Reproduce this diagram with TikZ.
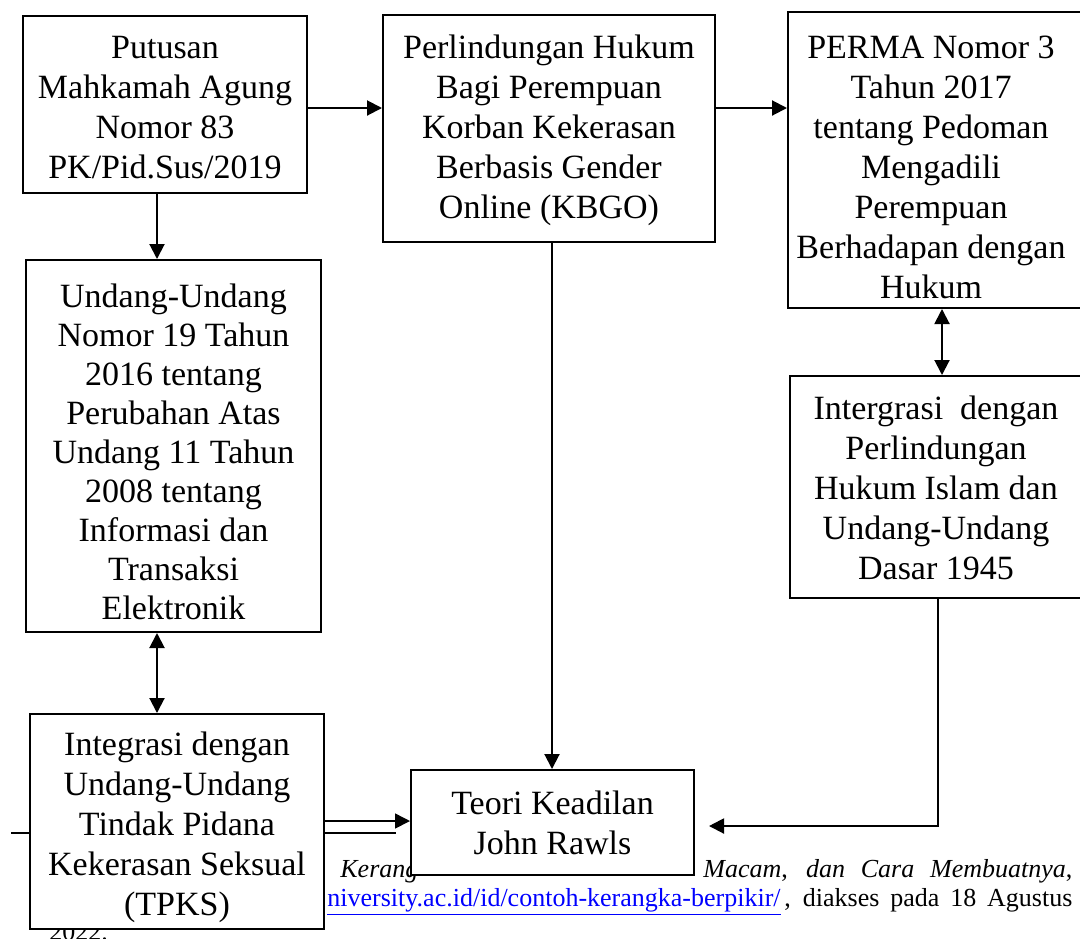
\documentclass[tikz,border=0pt]{standalone}
\usepackage{fontspec}
\setmainfont{Liberation Serif}
\usetikzlibrary{arrows.meta}
\definecolor{linkblue}{RGB}{0,0,255}
\newcommand{\btext}[3]{\hspace*{#2}\raisebox{#1}[\height][\depth]{\begin{tabular}{@{}c@{}}#3\end{tabular}}}
\begin{document}
\begin{tikzpicture}[x=0.5pt,y=-0.5pt,
  box/.style={draw, line width=1pt, fill=white, inner sep=0pt,
    font=\fontsize{17pt}{20pt}\selectfont},
  fn/.style={inner sep=0pt, font=\fontsize{13pt}{15pt}\selectfont},
  arr/.style={line width=1pt, -{Triangle[length=7.5pt,width=7.5pt]}},
  darr/.style={line width=1pt, {Triangle[length=7.5pt,width=7.5pt]}-{Triangle[length=7.5pt,width=7.5pt]}}]
\useasboundingbox (0,0) rectangle (1080,938);
\clip (0,0) rectangle (1080,938);

% footnote (partly hidden behind the boxes)
\node[fn, anchor=base west] (fa) at (340,877) {\textit{Kerang}};
\node[fn, anchor=base west] (fb) at (703,877) {\makebox[184.5pt][s]{\textit{Macam}, \textit{dan} \textit{Cara} \textit{Membuatnya},}};
\node[fn, anchor=base west] (fc) at (327,906) {\color{linkblue}\underline{niversity.ac.id/id/contoh-kerangka-berpikir/}};
\node[fn, anchor=base west] (fd) at (784,906) {\makebox[144pt][s]{, diakses pada 18 Agustus}};
\node[fn, anchor=base west] (fe) at (49,940) {2022.};
\draw[line width=1pt] (11,833) -- (396,833);

% boxes
\node[box, minimum width=142pt, minimum height=88.5pt] (a) at (165,104.5)
  {\btext{-3pt}{0pt}{Putusan\\Mahkamah Agung\\Nomor 83\\PK/Pid.Sus/2019}};
\node[box, minimum width=166pt, minimum height=113.5pt] (b) at (549,128.5)
  {\btext{-1pt}{0pt}{Perlindungan Hukum\\Bagi Perempuan\\Korban Kekerasan\\Berbasis Gender\\Online (KBGO)}};
\node[box, minimum width=151pt, minimum height=148pt] (c) at (939,160)
  {\btext{-5pt}{-8pt}{PERMA Nomor 3\\Tahun 2017\\tentang Pedoman\\Mengadili\\Perempuan\\Berhadapan dengan\\Hukum}};
\node[box, minimum width=147.5pt, minimum height=186pt, font=\fontsize{17pt}{19.5pt}\selectfont] (d) at (173.5,446)
  {\btext{-5pt}{0pt}{Undang-Undang\\Nomor 19 Tahun\\2016 tentang\\Perubahan Atas\\Undang 11 Tahun\\2008 tentang\\Informasi dan\\Transaksi\\Elektronik}};
\node[box, minimum width=150pt, minimum height=111pt] (e) at (940,487)
  {\btext{-2pt}{-4pt}{Intergrasi\ \ dengan\\Perlindungan\\Hukum Islam dan\\Undang-Undang\\Dasar 1945}};
\node[box, minimum width=147pt, minimum height=107.5pt] (f) at (177,821.5)
  {\btext{-3pt}{0pt}{Integrasi dengan\\Undang-Undang\\Tindak Pidana\\Kekerasan Seksual\\(TPKS)}};
\node[box, minimum width=141.5pt, minimum height=52.5pt] (g) at (552.5,822.5)
  {\btext{-2pt}{0pt}{Teori Keadilan\\John Rawls}};

% connectors
\draw[arr] (a.east |- 0,108) -- (b.west |- 0,108);
\draw[arr] (b.east |- 0,108) -- (c.west |- 0,108);
\draw[arr] (a.south -| 157,0) -- (d.north -| 157,0);
\draw[darr] (d.south -| 157,0) -- (f.north -| 157,0);
\draw[darr] (c.south -| 942,0) -- (e.north -| 942,0);
\draw[arr] (b.south -| 552,0) -- (g.north -| 552,0);
\draw[arr, shorten >=7pt] (e.south -| 938,0) |- (g.east |- 0,826);
\draw[arr, line width=0.8pt] (f.east |- 0,821) -- (g.west |- 0,821);
\end{tikzpicture}
\end{document}
